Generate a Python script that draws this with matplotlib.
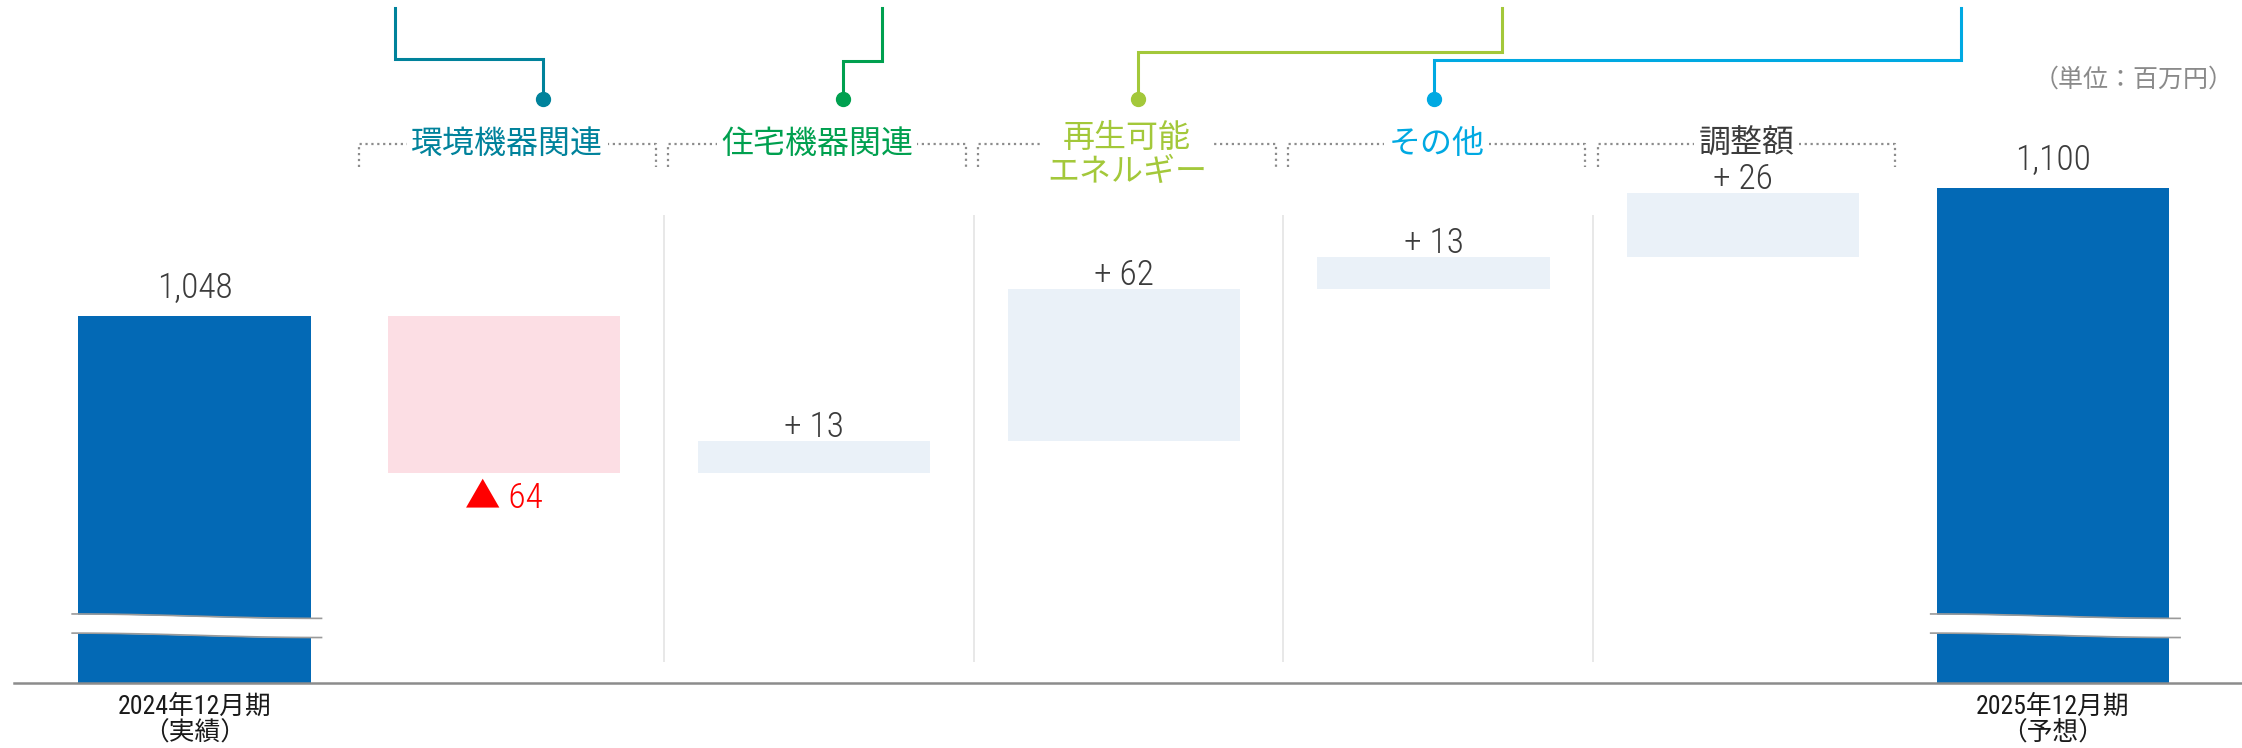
import numpy as np
import matplotlib.pyplot as plt

plt.rcParams['font.family'] = ['Noto Sans CJK JP', 'DejaVu Sans']

# データ（単位：百万円）
start_label = '2024年12月期\n（実績）'
end_label = '2025年12月期\n（予想）'
start_value = 1048
end_value = 1100
segments = ['環境機器関連', '住宅機器関連', '再生可能\nエネルギー', 'その他', '調整額']
deltas = [-64, 13, 62, 13, 26]
unit_label = '（単位：百万円）'

# 色
seg_colors = ['#00829B', '#00A04F', '#A3C83A', '#00A9E2', '#3C3C3C']
total_color = '#0369B5'
up_color = '#EAF1F8'
down_color = '#FCDEE4'
text_color = '#3C3C3C'

# 軸の切れ目などのレイアウト
BASE = 898.5
YMIN, YMAX = 872, 1176.7
XMIN, XMAX = -0.628, 6.61
BAR_W = 0.75
num_font = ['Roboto Condensed', 'DejaVu Sans', 'Noto Sans CJK JP']

fig = plt.figure(figsize=(22.42, 7.48), dpi=100)
ax = fig.add_axes([0, 0, 1, 1])
ax.set_xlim(XMIN, XMAX)
ax.set_ylim(YMIN, YMAX)
ax.axis('off')

# 累積
levels = [start_value]
for d in deltas:
    levels.append(levels[-1] + d)

# 合計バー
n = len(segments)
for x, v in [(0, start_value), (n + 1, end_value)]:
    ax.bar(x, v - BASE, bottom=BASE, width=BAR_W, color=total_color, zorder=2)
    ax.annotate(f'{v:,}', xy=(x, v), xytext=(0, 20), textcoords='offset points',
                ha='center', va='center', fontsize=25.5, color=text_color,
                family=num_font, weight='light', zorder=5)

# 増減バー
for i, d in enumerate(deltas):
    x = i + 1
    lo = min(levels[i], levels[i + 1])
    ax.bar(x, abs(d), bottom=lo, width=BAR_W,
           color=down_color if d < 0 else up_color, zorder=2)
    if d < 0:
        ax.annotate(f'▲ {abs(d)}', xy=(x, lo), xytext=(0, -18.4), textcoords='offset points',
                    ha='center', va='center', fontsize=25.5, color='#FF0000',
                    family=num_font, weight='light', zorder=5)
    else:
        ax.annotate(f'+ {d}', xy=(x, lo + d), xytext=(0, 10), textcoords='offset points',
                    ha='center', va='center', fontsize=25.5, color=text_color,
                    family=num_font, weight='light', zorder=5)

# 区切り線
for i in range(1, n):
    ax.vlines(i + 0.515, 907, 1089, color='#E6E6E6', lw=1.3, zorder=1)

# 項目名と点線の括弧
for i, (name, c) in enumerate(zip(segments, seg_colors)):
    x = i + 1
    x0, x1 = x - 0.47, x + 0.49
    ax.plot([x0, x0, x1, x1], [1108.7, 1118, 1118, 1108.7], ls=':', color='#8C8C8C',
            lw=1.6, zorder=1)
    y = 1113.6 if '\n' in name else 1118
    ax.text((x0 + x1) / 2, y, name, ha='center', va='center', fontsize=23, color=c,
            linespacing=1.1, bbox=dict(facecolor='white', edgecolor='none', pad=3), zorder=3)

# 上部の引き出し線
conn_top_x = [0.646, 2.22, 4.222, 5.704]
conn_mid_y = [1152.8, 1151.7, 1155.7, 1152.3]
conn_dot_x = [1.126, 2.095, 3.046, 4.0]
dot_y = 1136.5
for tx, my, dx, c in zip(conn_top_x, conn_mid_y, conn_dot_x, seg_colors):
    ax.plot([tx, tx, dx, dx], [1173.5, my, my, dot_y], color=c, lw=2.2,
            solid_joinstyle='miter', zorder=2)
    ax.plot(dx, dot_y, 'o', ms=10, color=c, zorder=2)

# 軸の省略記号（波線）
for xc in [0, n + 1]:
    xs = np.linspace(xc - 0.395, xc + 0.41, 80)
    t = (xs - xs[0]) / (xs[-1] - xs[0])
    wave = 0.9 * np.cos(np.pi * t)
    top = 921.8 + 3.9 + wave
    bot = 921.8 - 3.9 + wave
    ax.fill_between(xs, bot, top, color='white', lw=0, zorder=3)
    ax.plot(xs, top, color='#9A9A9A', lw=1.2, zorder=4)
    ax.plot(xs, bot, color='#9A9A9A', lw=1.2, zorder=4)

# 基線
ax.plot([-0.583, XMAX], [BASE, BASE], color='#8C8C8C', lw=1.8, zorder=5)

# 期間ラベル
for x, lab in [(0, start_label), (n + 1, end_label)]:
    ax.text(x, 883.4, lab, ha='center', va='center', fontsize=18.5, color='#1A1A1A',
            linespacing=1.1, family=['Roboto Condensed', 'Noto Sans CJK JP'])

ax.text(0.9964, 0.894, unit_label, transform=ax.transAxes, ha='right', va='center',
        fontsize=18, color='#8A8A8A')

fig.savefig('out.png', dpi=100)
